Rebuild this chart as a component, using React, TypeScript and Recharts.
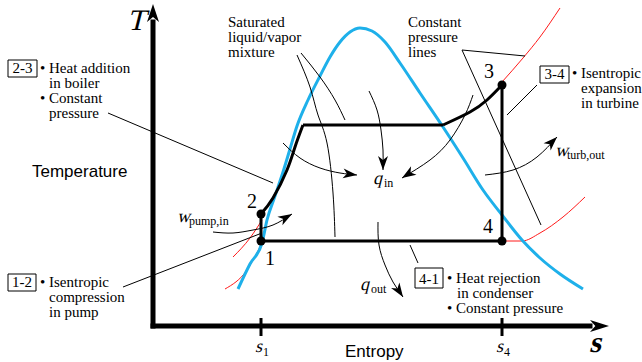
import React from "react";
import {
  ComposedChart,
  Line,
  ReferenceArea,
  ReferenceDot,
  Scatter,
  XAxis,
  YAxis,
} from "recharts";

// entropy (s) / temperature (T) in arbitrary diagram units
const dome = [
  [85, 37], [97, 62], [109, 83], [114, 106], [122, 130], [130, 154], [137, 177],
  [144, 200], [155, 226], [167, 250], [177, 269], [187, 284], [197, 294],
  [207, 298], [219, 295], [232, 284], [247, 263], [267, 233], [290, 199],
  [310, 168], [330, 136], [349, 111], [369, 86], [387, 68], [407, 52], [430, 37],
];

const pump = [[108, 85], [108, 112]];
const liquidHeating = [[108, 112], [120, 128], [134, 156], [142, 179], [150, 201]];
const boiling = [[150, 201], [290, 201]];
const superheat = [[290, 201], [317, 214], [334, 226], [349, 241]];
const turbine = [[349, 241], [349, 85]];
const condenser = [[349, 85], [108, 85]];
const statePoints = [[108, 85], [108, 112], [349, 241], [349, 85]];

const highPressureLiquid = [[80, 69], [97, 88], [109, 106]];
const lowPressureLiquid = [[72, 37], [94, 56], [107, 79]];
const highPressureVapor = [[349, 244], [370, 268], [387, 289], [407, 318]];
const lowPressureVapor = [[349, 85], [369, 85], [387, 93], [410, 109], [432, 129]];

const pressureLeaderA = [[309, 276], [372, 270]];
const pressureLeaderB = [[309, 276], [388, 101]];
const mixtureLeaderA = [[144, 271], [157, 239], [165, 211], [174, 183], [180, 133], [182, 89]];
const mixtureLeaderB = [[148, 273], [167, 249], [182, 226], [192, 206]];
const leader23 = [[-45, 213], [120, 143]];
const leader12 = [[-30, 39], [109, 93]];
const leader34 = [[384, 241], [354, 211]];
const leader41 = [[257, 81], [265, 63]];

const qInTop = [[216, 235], [224, 216], [228, 196], [230, 176], [230, 156]];
const qInLeft = [[130, 183], [147, 168], [167, 158], [187, 153], [204, 151]];
const qInRight = [[320, 231], [312, 211], [297, 186], [277, 166], [249, 148]];
const qOut = [[225, 104], [226, 81], [232, 61], [240, 44], [250, 29]];
const wPump = [[60, 94], [80, 93], [100, 96], [120, 101], [139, 112]];
const wTurb = [[332, 151], [360, 156], [384, 169], [404, 189]];

const xAxisShaft = [[0, 0], [437, 0]];
const yAxisShaft = [[0, 0], [0, 304]];

const entropyTicks = [108, 349];
const entropyTickNames = ["1", "4"];

const boilerLines = ["• Heat addition", "in boiler", "• Constant", "pressure"];
const pumpLines = ["• Isentropic", "compression", "in pump"];
const turbineLines = ["• Isentropic", "expansion", "in turbine"];
const condenserLines = ["• Heat rejection", "in condenser", "• Constant pressure"];
const mixtureLines = ["Saturated", "liquid/vapor", "mixture"];
const pressureLines = ["Constant", "pressure", "lines"];

const SERIF = "'Liberation Serif', 'Times New Roman', serif";
const SANS = "'Liberation Sans', Arial, sans-serif";
const BLUE = "#1eb0ea";
const RED = "#ff1a1a";
const SLANT = -14;

const pts = (pairs: number[][]) => pairs.map(([s, t]) => ({ s, t }));

const arrowHead =
  (pairs: number[][], len = 14, half = 5, beyond = false) =>
  (props: any) => {
    const { cx, cy, index } = props;
    const n = pairs.length;
    if (index !== n - 1 || cx == null) return <g key={`d${index}`} />;
    const [s0, t0] = pairs[n - 2];
    const [s1, t1] = pairs[n - 1];
    const angle = (Math.atan2(-(t1 - t0), s1 - s0) * 180) / Math.PI;
    return (
      <polygon
        key={`d${index}`}
        points={`0,0 ${-len},${-half} ${-len * 0.72},0 ${-len},${half}`}
        transform={`translate(${cx},${cy}) rotate(${angle}) translate(${beyond ? len : 0},0)`}
        fill="#000"
      />
    );
  };

const curve = (
  id: string,
  pairs: number[][],
  stroke: string,
  width: number,
  type: "linear" | "monotone" | "natural" = "linear",
  dot: any = false,
  cap: "butt" | "square" | "round" = "butt",
) => (
  <Line
    key={id}
    data={pts(pairs)}
    dataKey="t"
    type={type}
    stroke={stroke}
    strokeWidth={width}
    strokeLinecap={cap}
    dot={dot}
    activeDot={false}
    isAnimationActive={false}
    legendType="none"
  />
);

const note = (
  id: string,
  s: number,
  t: number,
  content: React.ReactNode,
  extra: Record<string, any> = {},
) => (
  <ReferenceDot
    key={id}
    x={s}
    y={t}
    r={0}
    ifOverflow="visible"
    shape={(p: any) => (
      <text x={p.cx} y={p.cy} fontFamily={SERIF} fontSize={15} fill="#000" {...extra}>
        {content}
      </text>
    )}
  />
);

// slanted symbol with an optional upright subscript
const sym = (
  id: string,
  s: number,
  t: number,
  main: string,
  sub: string,
  size: number,
  mainWidth: number,
  subSize = 12,
  weight: "normal" | "bold" = "normal",
) => (
  <ReferenceDot
    key={id}
    x={s}
    y={t}
    r={0}
    ifOverflow="visible"
    shape={(p: any) => (
      <g>
        <text
          transform={`translate(${p.cx},${p.cy}) skewX(${SLANT})`}
          fontFamily={SERIF}
          fontSize={size}
          fontWeight={weight}
          fill="#000"
        >
          {main}
        </text>
        {sub ? (
          <text x={p.cx + mainWidth} y={p.cy + 3} fontFamily={SERIF} fontSize={subSize} fill="#000">
            {sub}
          </text>
        ) : null}
      </g>
    )}
  />
);

const box = (id: string, s1: number, s2: number, t1: number, t2: number, label: string) => [
  <ReferenceArea
    key={`${id}-box`}
    x1={s1}
    x2={s2}
    y1={t1}
    y2={t2}
    fill="none"
    stroke="#000"
    strokeWidth={1}
    ifOverflow="visible"
  />,
  note(`${id}-label`, (s1 + s2) / 2, t1 + 4, label, { textAnchor: "middle" }),
];

const block = (id: string, s: number, t: number, lines: string[], indent: number) =>
  lines.map((line, i) =>
    note(`${id}-${i}`, line.startsWith("•") ? s : s + indent, t - i * 15, line),
  );

const EntropyTick = (props: any) => {
  const { x, y, payload } = props;
  const idx = entropyTicks.indexOf(payload.value);
  return (
    <g>
      <line x1={x} x2={x} y1={y - 8} y2={y + 10} stroke="#000" strokeWidth={3} />
      <text
        transform={`translate(${x - 6},${y + 26}) skewX(${SLANT})`}
        fontFamily={SERIF}
        fontSize={18}
        fill="#000"
      >
        s
      </text>
      <text x={x + 2} y={y + 30} fontFamily={SERIF} fontSize={12} fill="#000">
        {entropyTickNames[idx]}
      </text>
    </g>
  );
};

export default function App() {
  return (
    <div style={{ position: "absolute", left: 0, top: 0, width: 642, height: 362, background: "#fff" }}>
      <ComposedChart width={642} height={362} margin={{ top: 0, right: 0, bottom: 6, left: 0 }}>
        <XAxis
          type="number"
          dataKey="s"
          domain={[-153, 489]}
          ticks={entropyTicks}
          interval={0}
          height={30}
          axisLine={false}
          tickLine={false}
          tickSize={0}
          tickMargin={0}
          tick={<EntropyTick />}
        />
        <YAxis type="number" dataKey="t" domain={[0, 326]} hide />

        {curve("hpl", highPressureLiquid, RED, 1, "monotone")}
        {curve("lpl", lowPressureLiquid, RED, 1, "monotone")}
        {curve("hpv", highPressureVapor, RED, 1, "monotone")}
        {curve("lpv", lowPressureVapor, RED, 1, "monotone")}
        {curve("dome", dome, BLUE, 3, "monotone")}

        {curve("pump", pump, "#000", 3)}
        {curve("liq", liquidHeating, "#000", 3, "natural")}
        {curve("boil", boiling, "#000", 3)}
        {curve("sup", superheat, "#000", 3, "natural")}
        {curve("turb", turbine, "#000", 3)}
        {curve("cond", condenser, "#000", 3)}

        {curve("pla", pressureLeaderA, "#000", 1)}
        {curve("plb", pressureLeaderB, "#000", 1)}
        {curve("mla", mixtureLeaderA, "#000", 1, "natural")}
        {curve("mlb", mixtureLeaderB, "#000", 1, "natural")}
        {curve("l23", leader23, "#000", 1)}
        {curve("l12", leader12, "#000", 1)}
        {curve("l34", leader34, "#000", 1)}
        {curve("l41", leader41, "#000", 1)}

        {curve("qit", qInTop, "#000", 1, "natural", arrowHead(qInTop))}
        {curve("qil", qInLeft, "#000", 1, "natural", arrowHead(qInLeft))}
        {curve("qir", qInRight, "#000", 1, "natural", arrowHead(qInRight))}
        {curve("qo", qOut, "#000", 1, "natural", arrowHead(qOut))}
        {curve("wp", wPump, "#000", 1, "natural", arrowHead(wPump))}
        {curve("wt", wTurb, "#000", 1, "natural", arrowHead(wTurb))}

        {curve("xs", xAxisShaft, "#000", 5, "linear", arrowHead(xAxisShaft, 19, 6, true), "square")}
        {curve("ys", yAxisShaft, "#000", 5, "linear", arrowHead(yAxisShaft, 18, 6, true), "square")}

        <Scatter
          data={pts(statePoints)}
          fill="#000"
          isAnimationActive={false}
          legendType="none"
          shape={(p: any) => <circle cx={p.cx} cy={p.cy} r={4.5} fill="#000" />}
        />

        {sym("T", -26, 296, "T", "", 30, 0)}
        {note("temp", -121, 149, "Temperature", { fontFamily: SANS, fontSize: 17 })}
        {note("entropy", 192, -31, "Entropy", { fontFamily: SANS, fontSize: 17 })}
        {sym("S", 436, -26, "s", "", 30, 0, 12, "bold")}

        {note("n1", 112, 61, "1", { fontSize: 20 })}
        {note("n2", 94, 118, "2", { fontSize: 20 })}
        {note("n3", 331, 248, "3", { fontSize: 20 })}
        {note("n4", 330, 93, "4", { fontSize: 20 })}

        {box("b23", -145, -116, 249, 266, "2-3")}
        {block("boiler", -113, 253, boilerLines, 9)}
        {box("b12", -145, -117, 35, 52, "1-2")}
        {block("pumpTxt", -113, 39, pumpLines, 9)}
        {box("b34", 387, 416, 243, 260, "3-4")}
        {block("turbTxt", 419, 248, turbineLines, 9)}
        {box("b41", 262, 290, 38, 58, "4-1")}
        {block("condTxt", 294, 43, condenserLines, 10)}
        {block("mix", 75, 299, mixtureLines, 0)}
        {block("cpl", 255, 299, pressureLines, 0)}

        {sym("qin", 220, 142, "q", "in", 18, 11)}
        {sym("qout", 207, 36, "q", "out", 18, 11)}
        {sym("wpump", 24, 104, "w", "pump,in", 18, 12)}
        {sym("wturb", 402, 170, "w", "turb,out", 18, 12)}
      </ComposedChart>
    </div>
  );
}
